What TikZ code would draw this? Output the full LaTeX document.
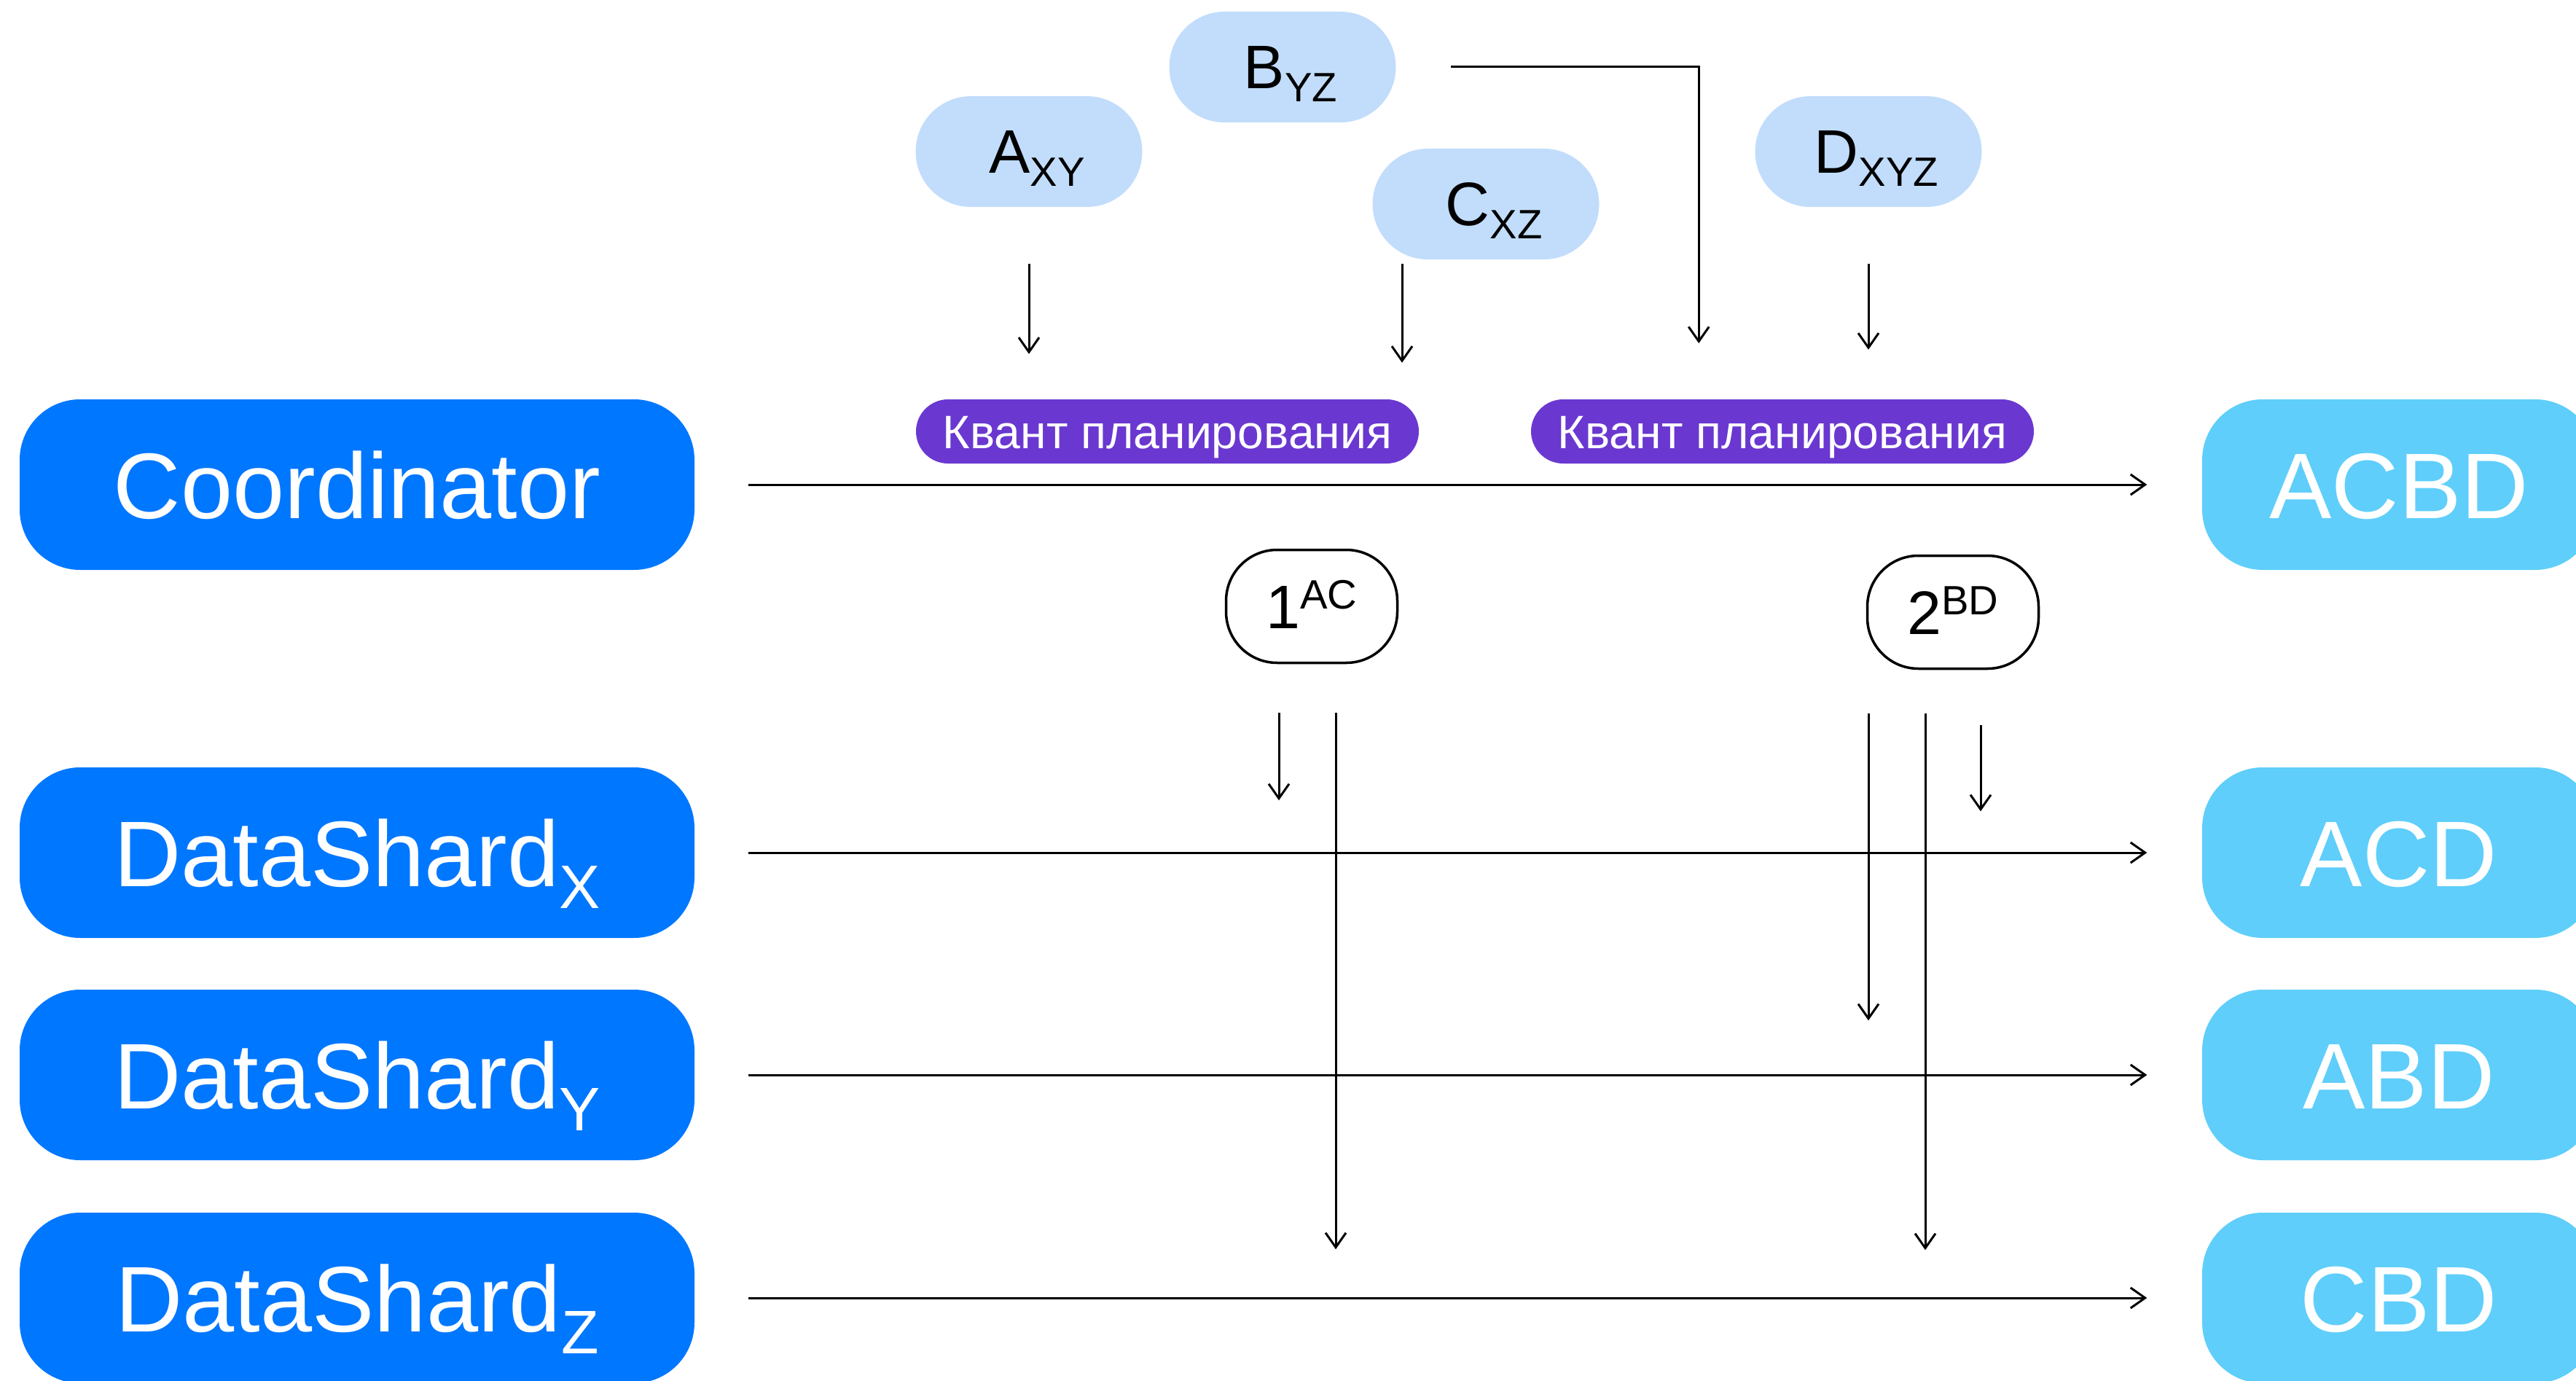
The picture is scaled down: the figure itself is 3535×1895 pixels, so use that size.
\documentclass[tikz,border=0pt]{standalone}
\usepackage{fontspec}
\setmainfont{Liberation Sans}
\usetikzlibrary{arrows.meta}
\definecolor{shardblue}{HTML}{0077FF}
\definecolor{resultblue}{HTML}{5FCEFA}
\definecolor{txnblue}{HTML}{C2DDFB}
\definecolor{quantviolet}{HTML}{6A38D0}
\newcommand{\shardsub}[1]{\raisebox{-3mm}{\fontsize{24pt}{24pt}\selectfont #1}}
\newcommand{\txsub}[1]{\raisebox{-1.8mm}{\fontsize{16pt}{16pt}\selectfont #1}}
\newcommand{\txsup}[1]{\raisebox{2.7mm}{\fontsize{16pt}{16pt}\selectfont #1}}
\tikzset{
    shard/.style={rectangle, rounded corners=8.3mm, fill=shardblue, text=white,
        minimum width=92.6mm, minimum height=23.4mm, inner sep=0pt,
        font=\fontsize{36.4pt}{36.4pt}\selectfont, text height=9.2mm, text depth=0pt},
    result/.style={shard, fill=resultblue, minimum width=54mm},
    txn/.style={rectangle, rounded corners=7.6mm, fill=txnblue,
        minimum width=31.1mm, minimum height=15.2mm, inner sep=0pt,
        font=\fontsize{24pt}{24pt}\selectfont, text height=6mm, text depth=0pt,
        execute at begin node=\hspace*{2.2mm}},
    quantum/.style={rectangle, rounded corners=4.4mm, fill=quantviolet, text=white,
        minimum width=69mm, minimum height=8.8mm, inner sep=0pt,
        font=\fontsize{18.3pt}{18.3pt}\selectfont, text height=4.6mm, text depth=0pt},
    plan/.style={rectangle, rounded corners=7mm, draw, line width=0.35mm, fill=white,
        minimum width=23.5mm, minimum height=15.5mm, inner sep=0pt,
        font=\fontsize{24pt}{24pt}\selectfont, text height=6.1mm, text depth=0pt},
    flow/.style={-{Straight Barb[length=2mm, width=2.8mm]}, line width=0.3mm}
}

\begin{document}
\begin{tikzpicture}[x=0.1mm, y=-0.1mm]
	\clip (0,0) rectangle (3535,1895);

	\node (coord) [shard] at (490, 665) {Coordinator};
	\node (dsx) [shard] at (490, 1170) {DataShard\shardsub{X}};
	\node (dsy) [shard] at (490, 1475) {DataShard\shardsub{Y}};
	\node (dsz) [shard] at (490, 1781) {DataShard\shardsub{Z}};

	\node (acbd) [result] at (3292, 665) {ACBD};
	\node (acd) [result] at (3292, 1170) {ACD};
	\node (abd) [result] at (3292, 1475) {ABD};
	\node (cbd) [result] at (3292, 1781) {CBD};

	\node (axy) [txn] at (1412, 208) {A\txsub{XY}};
	\node (byz) [txn] at (1760, 92) {B\txsub{YZ}};
	\node (cxz) [txn] at (2039, 280) {C\txsub{XZ}};
	\node (dxyz) [txn] at (2564, 208) {D\txsub{XYZ}};

	\node (quant1) [quantum] at (1602, 592) {Квант планирования};
	\node (quant2) [quantum] at (2446, 592) {Квант планирования};

	\node (tx1) [plan] at (1800, 832) {1\txsup{AC}};
	\node (tx2) [plan] at (2680, 840) {2\txsup{BD}};

	% time lines
	\draw[flow, shorten <=7.3mm, shorten >=7.5mm] (coord) -- (acbd);
	\draw[flow, shorten <=7.3mm, shorten >=7.5mm] (dsx) -- (acd);
	\draw[flow, shorten <=7.3mm, shorten >=7.5mm] (dsy) -- (abd);
	\draw[flow, shorten <=7.3mm, shorten >=7.5mm] (dsz) -- (cbd);

	% transactions into the coordinator
	\draw[flow] ([yshift=-7.7mm]axy.south) -- ++(0,124);
	\draw[flow] ([xshift=-11.5mm, yshift=-0.5mm]cxz.south) -- ++(0,136);
	\draw[flow] ([xshift=7.5mm]byz.east) -| ++(340,379);
	\draw[flow] ([yshift=-7.7mm]dxyz.south) -- ++(0,118);

	% planned steps down to the shards
	\draw[flow] ([xshift=-4.5mm, yshift=-6.7mm]tx1.south) -- ++(0,120);
	\draw[flow] ([xshift=3.3mm, yshift=-6.7mm]tx1.south) -- ++(0,736);
	\draw[flow] ([xshift=-11.6mm, yshift=-6mm]tx2.south) -- ++(0,421);
	\draw[flow] ([xshift=-3.8mm, yshift=-6mm]tx2.south) -- ++(0,736);
	\draw[flow] ([xshift=3.8mm, yshift=-7.6mm]tx2.south) -- ++(0,118);
\end{tikzpicture}
\end{document}
